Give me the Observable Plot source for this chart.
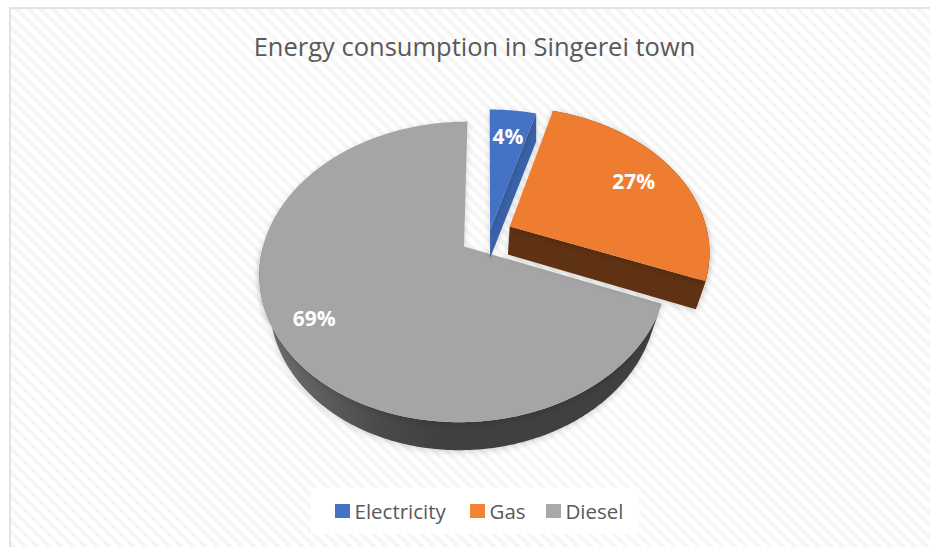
<!DOCTYPE html>
<html>
<head>
<meta charset="utf-8">
<script src="https://cdn.jsdelivr.net/npm/d3@7"></script>
<script src="https://cdn.jsdelivr.net/npm/@observablehq/plot@0.6"></script>
<style>
  html, body { margin: 0; padding: 0; background: #fff; }
  #frame {
    position: absolute; left: 9px; top: 7px; width: 921px; height: 540px; overflow: hidden;
    box-sizing: border-box; border-left: 2px solid #e3e3e3; border-top: 2px solid #e3e3e3;
    background: repeating-linear-gradient(45deg, #f6f6f6 0 4px, #ffffff 4px 8.5px);
  }
  #chart { position: absolute; left: -11px; top: -9px; width: 930px; height: 547px; font-family: "Open Sans", sans-serif; }
  #title { height: 78px; box-sizing: border-box; padding-top: 28px; text-align: center; font-size: 25.5px; line-height: 36px; color: #595959; width: 949px; }
  #plot { height: 400px; }
  #legend {
    position: absolute; left: 311px; top: 488px; width: 328px; height: 46px; background: #fff;
    display: flex; align-items: center; font-size: 20.5px; color: #595959;
  }
  #legend .sw { display: inline-block; width: 14.5px; height: 14.5px; margin-right: 5px; }
  #legend span.item { position: absolute; display: flex; align-items: center; top: 8px; line-height: 30px; }
  g[aria-label="line"] { filter: drop-shadow(0 2px 3px rgba(0,0,0,.16)); }
</style>
</head>
<body>
<div id="frame"><div id="chart">
  <div id="title">Energy consumption in Singerei town</div>
  <div id="plot"></div>
  <div id="legend"></div>
</div></div>
<script>
const categories = ["Electricity", "Gas", "Diesel"];
const shares = [4.4, 26.6, 69];
const labels = ["4%", "27%", "69%"];
const colors = ["#4472c4", "#ef7d31", "#a5a5a5"];
const sideColors = ["#3a62a8", "#5f3213", "url(#wall)"];
const legendColors = ["#4472c4", "#f58232", "#a9a9a9"];

// Pie projection (a tilted disc seen in perspective)
const cx = 463.5, cy = 246, R = 201, K = 146, P = 0.169, SK = 4;
const DEPTH = 28;
const taper = [0, 0.04, 0.05];
const explode = [[0.13, -0.115], [0.23, -0.14], [0, 0]];
const labelRadius = [0.75, 0.75, 0.82];

function project(u, v) {
  const s = 1 / (1 - P * v);
  return { x: cx + (R * u - SK * v) * s, y: cy + K * v * s };
}
const base = (p, t) => ({ x: p.x + (cx - p.x) * t, y: p.y + DEPTH });
function disc(angle, r, off) {
  return project(r * Math.sin(angle) + off[0], -r * Math.cos(angle) + off[1]);
}

const total = d3.sum(shares);
let acc = 0;
const slices = categories.map((c, i) => {
  const a0 = acc / total * 2 * Math.PI;
  acc += shares[i];
  const a1 = acc / total * 2 * Math.PI;
  return { i, a0, a1, off: explode[i], t: taper[i] };
});
function arc(s) {
  const n = Math.max(2, Math.ceil((s.a1 - s.a0) / 0.01));
  return d3.range(n + 1).map(k => disc(s.a0 + (s.a1 - s.a0) * k / n, 1, s.off));
}
const face = s => [disc(0, 0, s.off), ...arc(s)];

// Outer wall of a slice between two angles
function wall(s, from, to) {
  const a0 = Math.max(s.a0, from), a1 = Math.min(s.a1, to);
  const top = arc({ ...s, a0, a1 });
  return [...top, ...top.slice().reverse().map(p => base(p, s.t))];
}
// Flat cut face of a slice, from its apex to the rim at one angle
function cut(s, angle) {
  const a = disc(0, 0, s.off), b = disc(angle, 1, s.off);
  return [a, b, base(b, s.t), base(a, s.t)];
}

const [elec, gas, diesel] = slices;
const poly = (pts, fill) =>
  Plot.line(pts, { x: "x", y: "y", fill, stroke: "none", curve: "linear" });

const defs = () => {
  const d = d3.create("svg:defs");
  const g = d.append("linearGradient").attr("id", "wall");
  [["0%", "#727272"], ["30%", "#4a4a4a"], ["45%", "#404040"], ["100%", "#404040"]]
    .forEach(([o, c]) => g.append("stop").attr("offset", o).attr("stop-color", c));
  return d.node();
};

const labelPoints = slices.map(s => ({
  ...disc((s.a0 + s.a1) / 2, labelRadius[s.i], s.off),
  text: labels[s.i]
}));

const chart = Plot.plot({
  width: 930,
  height: 400,
  margin: 0,
  x: { domain: [0, 930], range: [0, 930], axis: null },
  y: { domain: [78, 478], range: [0, 400], axis: null },
  style: { background: "transparent" },
  marks: [
    defs,
    poly(wall(diesel, Math.PI / 2, 3 * Math.PI / 2), sideColors[2]),
    poly(face(diesel), colors[2]),
    poly(cut(elec, elec.a1), sideColors[0]),
    poly(face(elec), colors[0]),
    poly(wall(gas, gas.a0, gas.a1), sideColors[1]),
    poly(cut(gas, gas.a1), sideColors[1]),
    poly(face(gas), colors[1]),
    Plot.text(labelPoints, {
      x: "x", y: "y", text: "text", fill: "#fff",
      fontSize: 21, fontWeight: 700, fontFamily: "Open Sans"
    })
  ]
});
document.getElementById("plot").append(chart);

const legendX = [24, 159, 235];
const legend = d3.select("#legend");
categories.forEach((c, i) => {
  const item = legend.append("span").attr("class", "item").style("left", legendX[i] + "px");
  item.append("span").attr("class", "sw").style("background", legendColors[i]);
  item.append("span").text(c);
});
</script>
</body>
</html>
